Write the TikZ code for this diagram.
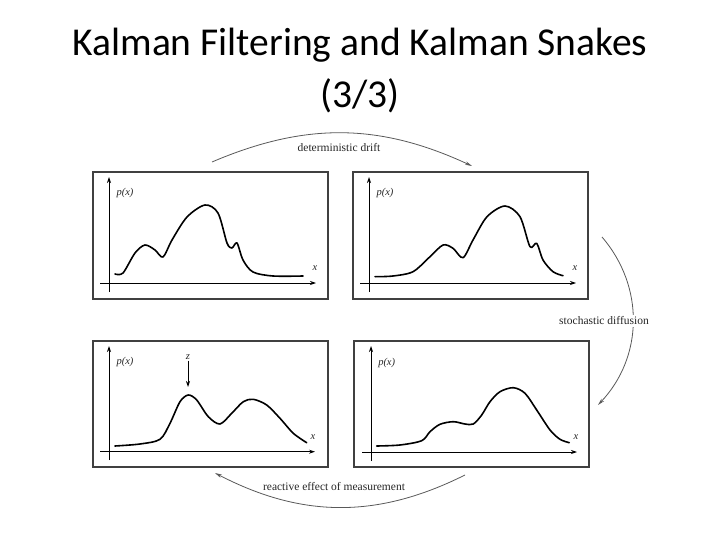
\documentclass[tikz,border=0pt]{standalone}
\usepackage{fontspec}
\setmainfont{Liberation Serif}
\newfontfamily\titlefont{Carlito}
\usetikzlibrary{arrows.meta}

\begin{document}
\begin{tikzpicture}[x=1pt,y=-1pt,
  panel/.style={draw=black!75, line width=1.3pt},
  density/.style={line width=1.6pt, line join=round, line cap=round},
  axis/.style={line width=0.8pt, -{Stealth[length=6pt,width=4pt]}},
  flow/.style={draw=black!65, line width=0.8pt, -{Stealth[length=7pt,width=3.5pt]}},
  lab/.style={font=\fontsize{10.5}{12}\selectfont, text=black!85, inner sep=1pt},
  flowlab/.style={font=\fontsize{11.5}{13}\selectfont, text=black!85, inner sep=1pt},
  titletext/.style={font=\titlefont\fontsize{39.5}{46}\selectfont, anchor=base, inner sep=0pt}]
\useasboundingbox (0,0) rectangle (720,540);
\node[titletext] (title1) at (360,56) {Kalman Filtering and Kalman Snakes};
\node[titletext] (title2) at (360,108) {(3/3)};

\begin{scope}[shift={(93,172)}] % top left
\draw[panel] (0,0) rectangle (235,127);
\draw[axis] (16,120) -- (16,5);
\draw[axis] (7,111) -- (223,111);
\node[lab] (p1) at (32,21) {\textit{p(x)}};
\node[lab] (x1) at (222,96) {\textit{x}};
\draw[density] plot[smooth] coordinates {(22,102) (30,101) (42,81) (52,73) (62,78) (70,85) (79,68) (94,45) (112,33) (125,41) (134,71) (139,76) (144,71) (150,88) (160,100) (180,104) (210,104)};
\end{scope}

\begin{scope}[shift={(353,172)}] % top right
\draw[panel] (0,0) rectangle (235,127);
\draw[axis] (16,120) -- (16,5);
\draw[axis] (7,111) -- (223,111);
\node[lab] (p2) at (32,21) {\textit{p(x)}};
\node[lab] (x2) at (222,96) {\textit{x}};
\draw[density] plot[smooth] coordinates {(22,104.7) (40,104) (60,99.7) (77,84.7) (90,73) (100,76.3) (110,85.7) (120,68) (134,44.7) (152,34) (167,44.7) (177,74.7) (183.7,71.3) (190,88) (200,99.7) (210,103.7)};
\end{scope}

\begin{scope}[shift={(93,341)}] % bottom left
\draw[panel] (0,0) rectangle (235,126);
\draw[axis] (16,119) -- (16,5);
\draw[axis] (7,110.7) -- (222,110.7);
\node[lab] (p3) at (32,21) {\textit{p(x)}};
\node[lab] (x3) at (220,96) {\textit{x}};
\node[lab] (z) at (95,16) {\textit{z}};
\coordinate (zpeak) at (95,46);
\draw[axis] (z) -- (zpeak);
\draw[density] plot[smooth] coordinates {(22,105) (47,103) (67,98.3) (77,82.3) (87,60.7) (95.3,54) (103.7,59) (115.3,75.7) (127,83) (138.7,72.3) (150.3,60.7) (160.3,58.3) (173.7,64) (187,77.3) (200.3,92.3) (213.7,101.7)};
\end{scope}

\begin{scope}[shift={(354,341)}] % bottom right
\draw[panel] (0,0) rectangle (235,126);
\draw[axis] (17,120) -- (17,5);
\draw[axis] (8,111) -- (223,111);
\node[lab] (p4) at (32.7,21.7) {\textit{p(x)}};
\node[lab] (x4) at (222,96) {\textit{x}};
\draw[density] plot[smooth] coordinates {(22.7,105) (46,104) (67.7,99.7) (76,90.7) (86,83.3) (99.3,80.7) (111,83) (119.3,83) (127.7,74) (136,60.7) (146,50.7) (159.3,46.7) (171,52.3) (182.7,69) (196,89) (206,98.3) (215.3,101.7)};
\end{scope}

% cycle arrows
\coordinate (drift-s) at (212,162);
\coordinate (drift-e) at (472,166);
\coordinate (diff-s) at (602,237);
\coordinate (diff-e) at (598,405);
\coordinate (meas-s) at (465,475);
\coordinate (meas-e) at (215,473);
\draw[flow] (drift-s) to[bend left=24] (drift-e);
\draw[flow] (diff-s) to[bend left=42] (diff-e);
\draw[flow] (meas-s) to[bend left=27] (meas-e);
\node[flowlab] (drift) at (339,148) {deterministic drift};
\node[flowlab, fill=white, inner sep=2pt] (diff) at (604,321) {stochastic diffusion};
\node[flowlab] (meas) at (334,487) {reactive effect of measurement};
\end{tikzpicture}
\end{document}
